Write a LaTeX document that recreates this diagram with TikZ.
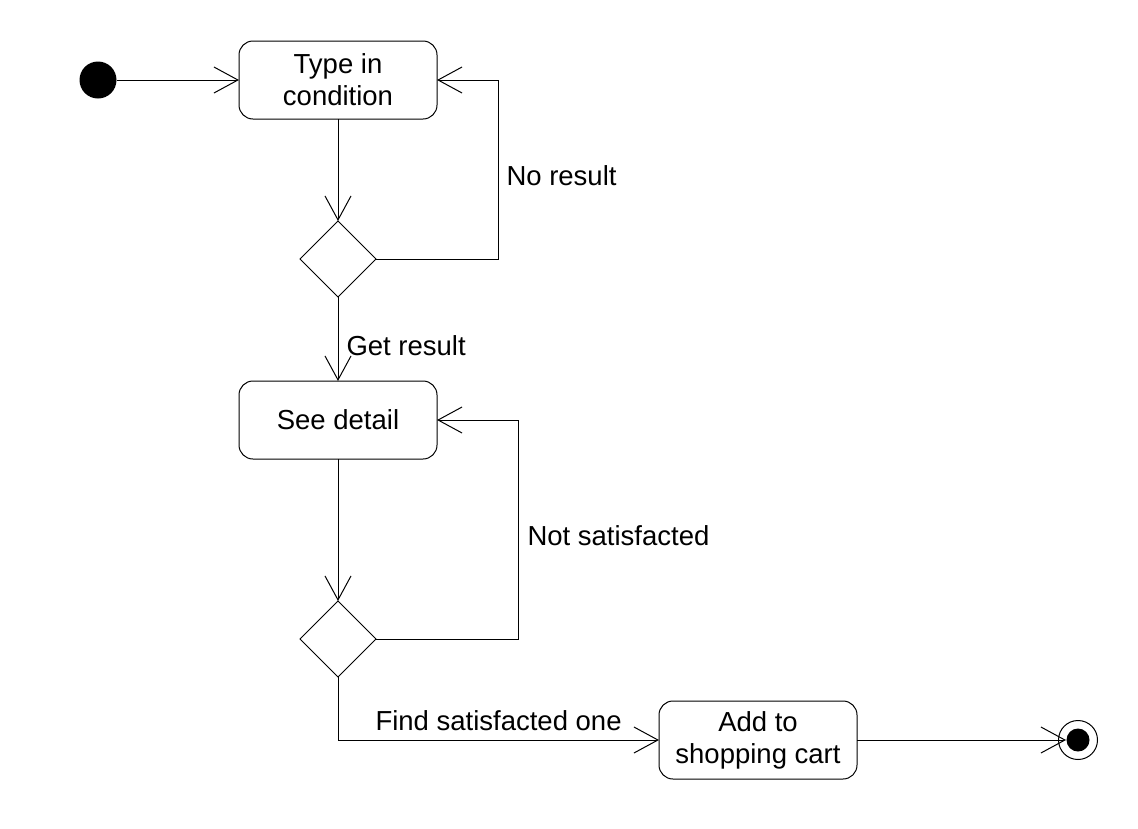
\documentclass[tikz,border=0pt]{standalone}
\usepackage{fontspec}
\setmainfont{Liberation Sans}
\usetikzlibrary{arrows.meta,shapes.geometric}
\begin{document}
\begin{tikzpicture}[x=1pt,y=-1pt,
  line width=1pt,
  txt/.style={font=\fontsize{27.5}{32}\selectfont},
  activity/.style={draw,rounded corners=14pt,minimum width=198pt,minimum height=78pt,inner sep=0pt,outer sep=0pt,align=center,txt},
  decision/.style={draw,diamond,aspect=1,minimum width=76pt,minimum height=76pt,inner sep=0pt,outer sep=0pt},
  arr/.style={-{Straight Barb[length=24pt,width=26pt,line width=1pt]}},
  lbl/.style={anchor=west,inner sep=0pt,txt}]
\useasboundingbox (0,0) rectangle (1138,828);
\node[circle,fill=black,minimum size=37pt,inner sep=0pt,outer sep=0pt] (start) at (98,80) {};
\node[activity] (t1) at (338,80) {Type in\\condition};
\node[decision] (d1) at (338,259) {};
\node[activity] (t2) at (338,420) {See detail};
\node[decision] (d2) at (338,639) {};
\node[activity] (t3) at (758,740) {Add to\\shopping cart};
\node[circle,draw,minimum size=39pt,inner sep=0pt,outer sep=0pt] (endn) at (1078,740) {};
\fill (endn.center) circle (11.5);
\coordinate (c1) at (498,259);
\coordinate (c2) at (518,639);
\coordinate (c3) at (338,740);
\draw[arr] (start) -- (t1.west);
\draw[arr] (t1.south) -- (d1.north);
\draw[arr] (d1.east) -- (c1) |- (t1.east);
\draw[arr] (d1.south) -- (t2.north);
\draw[arr] (t2.south) -- (d2.north);
\draw[arr] (d2.east) -- (c2) |- (t2.east);
\draw[arr] (d2.south) -- (c3) -- (t3.west);
\draw[arr,shorten >=12pt] (t3.east) -- (endn.center);
\node[lbl] (l1) at (506,176) {No result};
\node[lbl] (l2) at (346,346) {Get result};
\node[lbl] (l3) at (527,536) {Not satisfacted};
\node[lbl] (l4) at (375,721) {Find satisfacted one};
\end{tikzpicture}
\end{document}
